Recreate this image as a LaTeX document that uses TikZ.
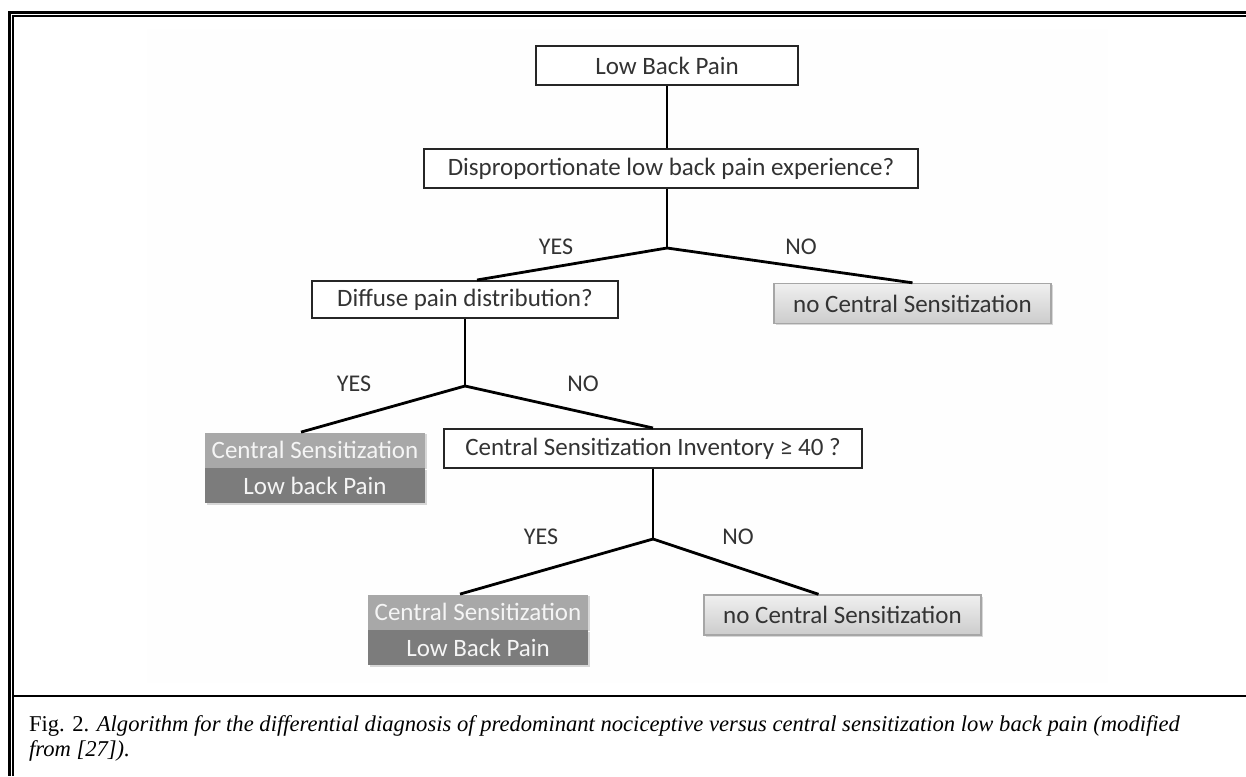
\documentclass[tikz,border=0pt]{standalone}
\usepackage{fontspec}
\setmainfont{Liberation Serif}
\newfontfamily\califont{Carlito}
\usetikzlibrary{positioning,shadows}
\definecolor{boxtext}{HTML}{333333}
\definecolor{csup}{HTML}{A8A8A8}
\definecolor{cslo}{HTML}{7C7C7C}

\begin{document}
\begin{tikzpicture}[x=0.5pt,y=-0.5pt,
    qbox/.style={draw=black!85, line width=1pt, fill=white, inner sep=0pt,
      minimum height=19.5pt, text=boxtext, font=\califont\fontsize{12.5}{15}\selectfont},
    nobox/.style={draw=black!35, line width=0.7pt, top color=black!6, bottom color=black!20,
      inner sep=0pt, minimum width=138.5pt, minimum height=20pt, text=boxtext,
      font=\califont\fontsize{12.5}{15}\selectfont,
      drop shadow={shadow xshift=0.8pt, shadow yshift=-0.8pt, opacity=0.3}},
    cstop/.style={fill=csup, inner sep=0pt, minimum width=110pt, minimum height=17.5pt,
      text=black!4, font=\califont\fontsize{12.5}{15}\selectfont,
      drop shadow={shadow xshift=0.8pt, shadow yshift=-0.8pt, opacity=0.3}},
    csbot/.style={cstop, fill=cslo},
    link/.style={line width=1.4pt, black},
    answer/.style={text=boxtext, font=\califont\fontsize{12}{14}\selectfont},
    capfont/.style={anchor=base west, font=\fontsize{11.3}{13}\selectfont}]
  \useasboundingbox (0,0) rectangle (1246,776);
  \fill[black!0.5] (147,29) rectangle (1108,683);
  % frame
  \draw[line width=1.5pt] (1246,12.5) -- (9,12.5) -- (9,776);
  \draw[line width=0.7pt] (1246,16) -- (13,16) -- (13,776);
  \draw[line width=1.25pt] (13,696) -- (1246,696);

  \coordinate (jA) at (667,248);
  \node[qbox, minimum width=131pt] (lbp) at (667,65.5) {Low Back Pain};
  \node[qbox, minimum width=247pt, below=31pt of lbp, xshift=2pt] (disprop) {Disproportionate low back pain experience?};
  \node[qbox, minimum width=153pt, minimum height=18.5pt] (diffuse) at (465,299.5) {Diffuse pain distribution?};
  \node[nobox] (nocsA) at (912.5,303.5) {no Central Sensitization};
  \coordinate[below=33.5pt of diffuse] (jB);
  \node[cstop] (csAtop) at (315,450) {Central Sensitization};
  \node[csbot, below=0pt of csAtop] (csAbot) {Low back Pain};
  \node[qbox, minimum width=209pt] (csi) at (653,448.5) {Central Sensitization Inventory ≥ 40 ?};
  \coordinate[below=35pt of csi] (jC);
  \node[cstop] (csBtop) at (478,612) {Central Sensitization};
  \node[csbot, below=0pt of csBtop] (csBbot) {Low Back Pain};
  \node[nobox] (nocsB) at (842.5,615) {no Central Sensitization};

  \draw[link] (lbp.south) -- (lbp.south |- disprop.north);
  \draw[link] (disprop.south -| jA) -- (jA);
  \draw[link] (jA) -- ([xshift=6pt]diffuse.north);
  \draw[link] (jA) -- (nocsA.north);
  \draw[link] (diffuse) -- (jB);
  \draw[link] (jB) -- ([xshift=-7pt]csAtop.north);
  \draw[link] (jB) -- (csi.north);
  \draw[link] (csi) -- (jC);
  \draw[link] (jC) -- ([xshift=-9pt]csBtop.north);
  \draw[link] (jC) -- ([xshift=-12pt]nocsB.north);

  \node[answer] (yesA) at (556,247) {YES};
  \node[answer] (noA) at (801,247) {NO};
  \node[answer] (yesB) at (354,384) {YES};
  \node[answer] (noB) at (583,384) {NO};
  \node[answer] (yesC) at (541,537) {YES};
  \node[answer] (noC) at (738,537) {NO};

  \node[capfont] (capA) at (22,731)
    {Fig. 2. \textit{Algorithm for the differential diagnosis of predominant nociceptive versus central sensitization low back pain (modified}};
  \node[capfont] (capB) at (22,756) {\textit{from [27]).}};
\end{tikzpicture}
\end{document}
